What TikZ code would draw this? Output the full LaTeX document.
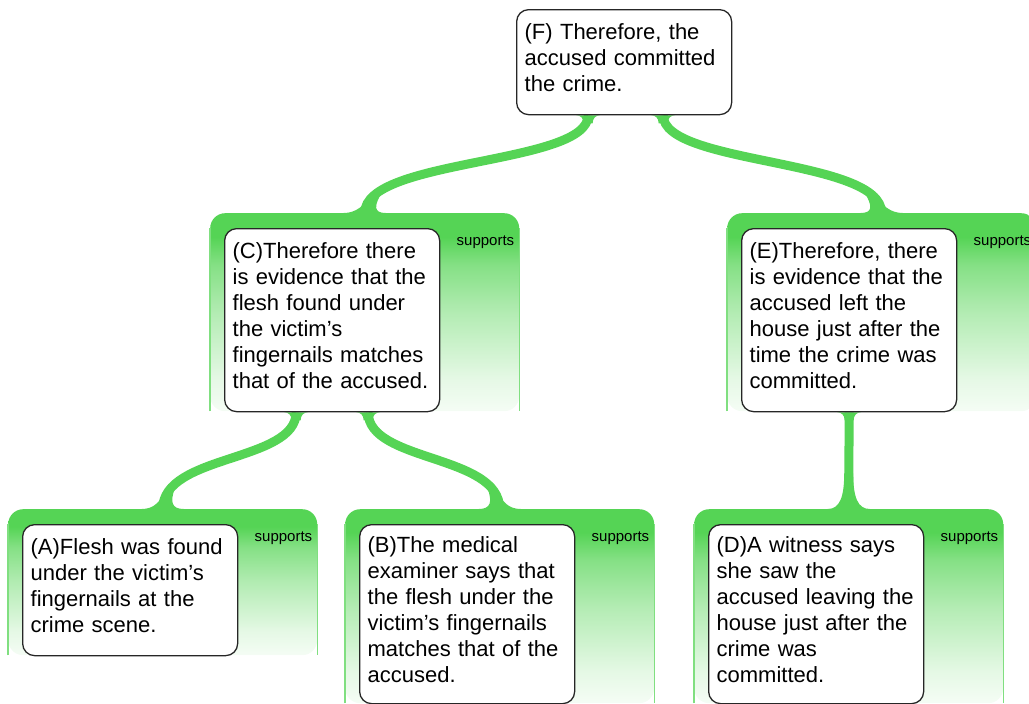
\documentclass[tikz,border=0pt]{standalone}
\usepackage{fontspec}
\setmainfont{Liberation Sans}
\usepackage{tikz}
\usetikzlibrary{backgrounds}
\definecolor{linkgreen}{HTML}{55D455}
\pgfdeclareverticalshading{panelfade}{100bp}{color(0bp)=(linkgreen!6); color(25bp)=(linkgreen!6);
  color(33bp)=(linkgreen!15); color(50bp)=(linkgreen!45); color(62bp)=(linkgreen!72);
  color(69bp)=(linkgreen); color(100bp)=(linkgreen)}
\tikzset{
    arg box/.style={
        draw=black!85,
        line width=1.3pt,
        rounded corners=12pt,
        fill=white,
        anchor=north west,
        text width=199pt,
        inner xsep=8pt,
        inner ysep=0pt,
        align=left,
        font=\fontsize{22}{26}\selectfont,
        execute at end node={\par\vspace*{10pt}}
    },
    arg panel/.style={
        anchor=north west,
        rounded corners=15pt,
        shade,
        shading=panelfade,
        minimum width=309pt,
        inner sep=0pt
    },
    arg edge/.style={draw=linkgreen!75, line width=1.4pt},
    arg label/.style={anchor=base east, inner sep=0pt, font=\fontsize{15}{15}\selectfont},
    arg link/.style={draw=linkgreen, line width=9pt},
    % fillets where a link leaves a claim and where it lands on a panel
    link root/.pic={
        \fill[linkgreen] (-12,0) .. controls (-7.5,0) and (-4.5,3) .. (-4.5,8)
            -- (4.5,8) .. controls (4.5,3) and (7.5,0) .. (12,0) -- cycle;
    },
    link foot/.pic={
        \fill[linkgreen] (-21,0) .. controls (-9,0) and (-4.5,-7) .. (-4.5,-21)
            -- (4.5,-21) .. controls (4.5,-7) and (9,0) .. (21,0) -- cycle;
    }
}

\begin{document}
\begin{tikzpicture}[x=1pt, y=-1pt]
\useasboundingbox (0,0) rectangle (1029,704);

% Claims
\node[arg box, minimum height=105pt] (F) at (516,9)
    {(F) Therefore, the\\accused committed\\the crime.};
\node[arg box, minimum height=183pt] (C) at (224,228)
    {(C)Therefore there\\is evidence that the\\flesh found under\\the victim’s\\fingernails matches\\that of the accused.};
\node[arg box, minimum height=183pt] (E) at (741,228)
    {(E)Therefore, there\\is evidence that the\\accused left the\\house just after the\\time the crime was\\committed.};
\node[arg box, minimum height=131pt] (A) at (22,524)
    {(A)Flesh was found\\under the victim’s\\fingernails at the\\crime scene.};
\node[arg box, minimum height=179pt] (B) at (359,524)
    {(B)The medical\\examiner says that\\the flesh under the\\victim’s fingernails\\matches that of the\\accused.};
\node[arg box, minimum height=179pt] (D) at (708,524)
    {(D)A witness says\\she saw the\\accused leaving the\\house just after the\\crime was\\committed.};

\begin{scope}[on background layer]
% Reason panels
\node[arg panel, minimum height=198pt] (pC) at ([xshift=-14pt,yshift=15pt]C.north west) {};
\node[arg panel, minimum height=198pt] (pE) at ([xshift=-14pt,yshift=15pt]E.north west) {};
\node[arg panel, minimum height=146pt] (pA) at ([xshift=-14pt,yshift=15pt]A.north west) {};
\node[arg panel, minimum height=194pt] (pB) at ([xshift=-14pt,yshift=15pt]B.north west) {};
\node[arg panel, minimum height=194pt] (pD) at ([xshift=-14pt,yshift=15pt]D.north west) {};
\draw[arg edge] (pC.south west) -- ([yshift=-15pt]pC.north west) ([yshift=-15pt]pC.north east) -- (pC.south east);
\draw[arg edge] (pE.south west) -- ([yshift=-15pt]pE.north west) ([yshift=-15pt]pE.north east) -- (pE.south east);
\draw[arg edge] (pA.south west) -- ([yshift=-15pt]pA.north west) ([yshift=-15pt]pA.north east) -- (pA.south east);
\draw[arg edge] (pB.south west) -- ([yshift=-15pt]pB.north west) ([yshift=-15pt]pB.north east) -- (pB.south east);
\draw[arg edge] (pD.south west) -- ([yshift=-15pt]pD.north west) ([yshift=-15pt]pD.north east) -- (pD.south east);
\node[arg label] (lC) at ([xshift=-5pt,yshift=-32pt]pC.north east) {supports};
\node[arg label] (lE) at ([xshift=-5pt,yshift=-32pt]pE.north east) {supports};
\node[arg label] (lA) at ([xshift=-5pt,yshift=-32pt]pA.north east) {supports};
\node[arg label] (lB) at ([xshift=-5pt,yshift=-32pt]pB.north east) {supports};
\node[arg label] (lD) at ([xshift=-5pt,yshift=-32pt]pD.north east) {supports};

% Links from each claim down to its reasons
\coordinate (F-left) at ([xshift=-36pt]F.south);
\coordinate (F-right) at ([xshift=39pt]F.south);
\coordinate (C-left) at ([xshift=-36pt]C.south);
\coordinate (C-right) at ([xshift=36pt]C.south);
\draw[arg link] (F-left) .. controls +(0,50) and +(0,-55) .. (pC.north);
\draw[arg link] (F-right) .. controls +(0,50) and +(0,-55) .. (pE.north);
\draw[arg link] (C-left) .. controls +(0,50) and +(0,-55) .. (pA.north);
\draw[arg link] (C-right) .. controls +(0,50) and +(0,-55) .. (pB.north);
\draw[arg link] (E.south) -- (pD.north);
\pic at (F-left) {link root};
\pic at (F-right) {link root};
\pic at (C-left) {link root};
\pic at (C-right) {link root};
\pic at (E.south) {link root};
\pic[xslant=0.62] at (pC.north) {link foot};
\pic[xslant=-0.62] at (pE.north) {link foot};
\pic[xslant=0.37] at (pA.north) {link foot};
\pic[xslant=-0.37] at (pB.north) {link foot};
\pic[yscale=1.7] at (pD.north) {link foot};
\end{scope}
\end{tikzpicture}
\end{document}
